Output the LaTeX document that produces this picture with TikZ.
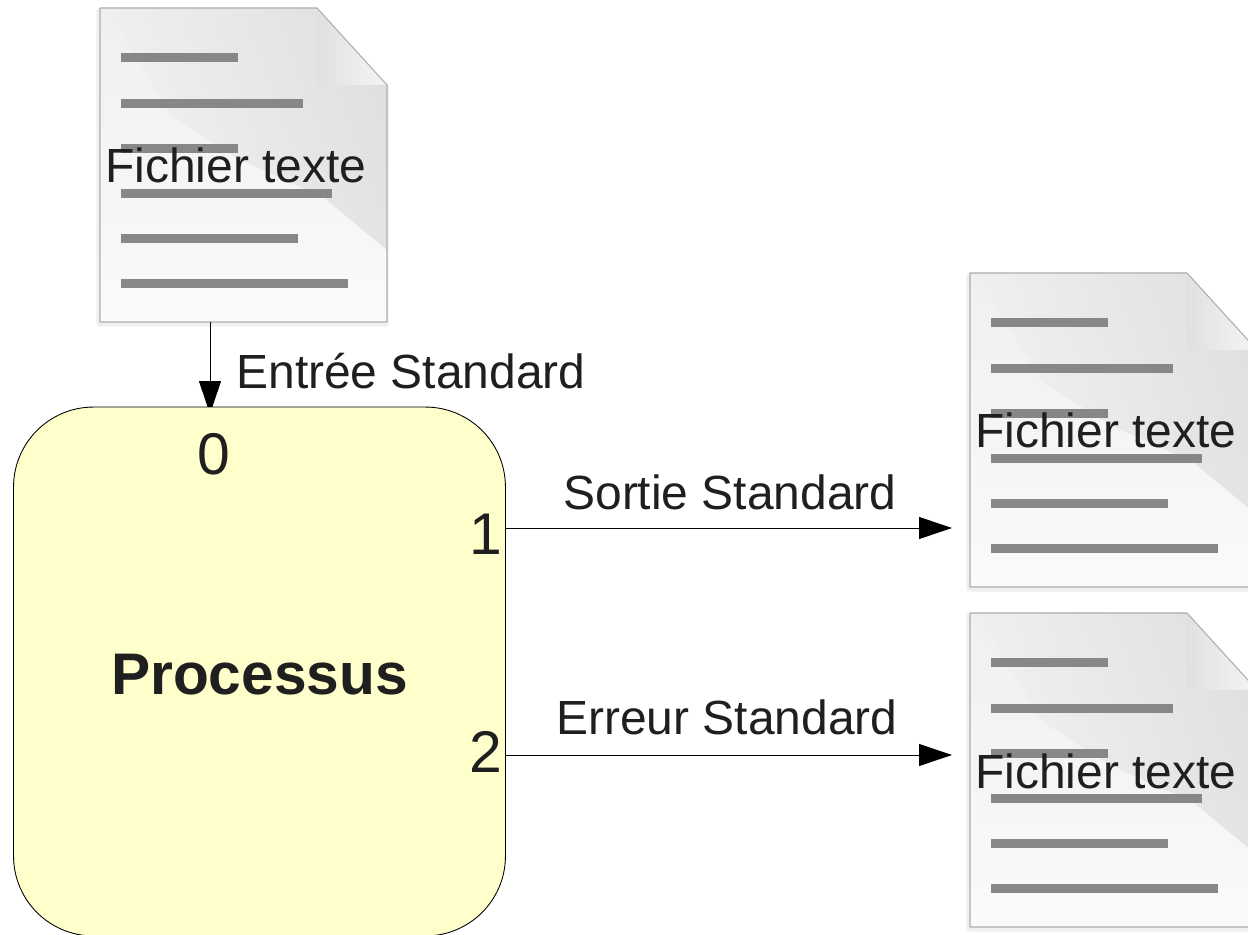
\documentclass[tikz,border=0pt]{standalone}
\usepackage{fontspec}
\setmainfont{Liberation Sans}
\usetikzlibrary{arrows.meta,backgrounds}
\definecolor{jaune}{HTML}{FFFFCC}
\begin{document}
\begin{tikzpicture}[x=0.02cm, y=-0.02cm]
			\tikzstyle{texte}     = [inner sep=0pt, text=black!88, font=\fontsize{27.3}{32}\selectfont]
			\tikzstyle{numero}    = [inner sep=0pt, text=black!88, font=\fontsize{33.5}{40}\selectfont]
			\tikzstyle{feuille}   = [draw=black!32, line width=0.6pt, line join=round]
			\tikzstyle{cadre}     = [minimum width=5.74cm, minimum height=6.28cm, inner sep=0pt]
			\tikzstyle{processus} = [draw=black, line width=0.5pt, fill=jaune, rounded corners=1.6cm, minimum width=9.84cm, minimum height=10.58cm, inner sep=0pt, text height=26pt, font=\fontsize{33.4}{40}\selectfont\bfseries, text=black!88]
			\tikzstyle{fleche}    = [line width=0.55pt, -{Triangle[length=0.66cm, width=0.44cm]}]

			\clip (0,0) rectangle (1248,935);

			\node[processus] (proc) at (259.5, 671.5) {Processus};

			\coordinate (entreeFin) at (210, 414);
			\coordinate (sortieFin) at (952, 528);
			\coordinate (erreurFin) at (952, 755);

			% les trois documents
			\begin{pgfonlayer}{background}
			\foreach \name/\x/\y in {entree/100/8, sortie/970/273, erreur/970/613} {
				\begin{scope}[shift={(\x,\y)}]
					\fill[black!6, line join=round, line width=3pt, draw=black!6] (-1,3) -- (216,3) -- (286,80) -- (286,316) -- (-1,316) -- cycle;
					\shade[top color=black!6, bottom color=black!2] (0,0) -- (217,0) -- (287,77) -- (287,314) -- (0,314) -- cycle;
					\shade[left color=black!5, right color=black!12, shading angle=110] (0,0) -- (217,0) -- (217,77) -- (287,77) -- (287,242) -- (223,189) -- (140,152) -- (73,109) -- (23,29) -- cycle;
					\shade[left color=black!12, right color=black!4] (217,0) -- (287,77) -- (217,77) -- cycle;
					\draw[feuille] (0,0) -- (217,0) -- (287,77) -- (287,314) -- (0,314) -- cycle;
					\foreach \ligne/\fin in {49.5/138, 95.5/203, 140.5/138, 185.5/232, 230.5/198, 275.5/248}
						\fill[black!47] (21,\ligne-4.5) rectangle (\fin,\ligne+4.5);
				\end{scope}
				\node[cadre] (\name) at (\x+143.5, \y+157) {};
				\node[texte, anchor=base west] (\name Texte) at (\x+5, \y+175) {Fichier texte};
			}
			\draw[fleche] (entree.south -| entreeFin) -- (entreeFin);
			\end{pgfonlayer}

			\draw[fleche] (proc.east |- sortieFin) -- (sortieFin);
			\draw[fleche] (proc.east |- erreurFin) -- (erreurFin);

			\foreach \name/\text/\x/\y in {labEntree/Entrée Standard/236/389, labSortie/Sortie Standard/563/510, labErreur/Erreur Standard/556/734}
				\node[texte, anchor=base west] (\name) at (\x, \y) {\text};

			\foreach \name/\text/\x/\y in {port0/0/197/475, port1/1/469/555, port2/2/469/772}
				\node[numero, anchor=base west] (\name) at (\x, \y) {\text};

		\end{tikzpicture}
\end{document}
